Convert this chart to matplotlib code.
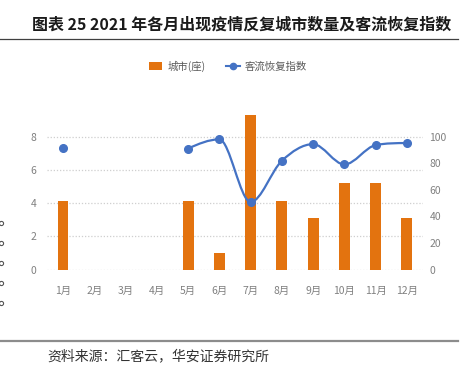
import numpy as np
import matplotlib
matplotlib.use('Agg')
import matplotlib.pyplot as plt
from matplotlib.path import Path
from matplotlib.patches import PathPatch, Patch
from matplotlib.lines import Line2D

plt.rcParams['font.family'] = ['Noto Sans CJK SC', 'DejaVu Sans']

months = ['1月', '2月', '3月', '4月', '5月', '6月', '7月', '8月', '9月', '10月', '11月', '12月']
cities = [4.1, 0, 0, 0, 4.1, 1.0, 9.3, 4.1, 3.1, 5.2, 5.2, 3.1]
flow = [91.3, np.nan, np.nan, np.nan, 91.0, 97.9, 50.8, 81.8, 94.3, 79.0, 93.6, 95.1]
left_ticks = [0, 2, 4, 6, 8]
right_ticks = [0, 20, 40, 60, 80, 100]

BAR = '#E3730F'
LINE = '#4472C4'
TICK = '#808080'

W, H = 472, 366
fig = plt.figure(figsize=(W / 100, H / 100), dpi=100)
ax = fig.add_axes([47.35 / W, 1 - 269.5 / H, (422.6 - 47.35) / W, (269.5 - 100) / H])
ax2 = ax.twinx()

x = np.arange(len(months))
ax.bar(x, cities, width=0.35, color=BAR, zorder=2)
ax.set_xlim(-0.5, len(months) - 0.5)
ax.set_ylim(0, 10.2)
ax2.set_ylim(0, 10.2 * 12.5)
ax.set_yticks(left_ticks)
ax2.set_yticks(right_ticks)
ax.set_xticks(x)
ax.set_xticklabels(months)
for a in (ax, ax2):
    for s in a.spines.values():
        s.set_visible(False)
    a.tick_params(length=0, labelsize=7.5, labelcolor=TICK)
ax.tick_params(axis='x', pad=12)
ax.tick_params(axis='y', pad=8)
ax2.tick_params(axis='y', pad=5)
ax.grid(axis='y', linestyle=(0, (1, 1.5)), color='#cfcfcf', linewidth=0.9, zorder=0)
ax.set_axisbelow(True)

# smoothed line: shape-preserving cubic Hermite drawn as Bezier segments
fx = np.array(x, dtype=float)
fy = np.array(flow, dtype=float)
valid = ~np.isnan(fy)
segs, cur = [], []
for i in range(len(fy)):
    if valid[i]:
        cur.append(i)
    else:
        if cur:
            segs.append(cur)
        cur = []
if cur:
    segs.append(cur)
for seg in segs:
    if len(seg) < 2:
        continue
    px = fx[seg]
    py = fy[seg]
    n = len(px)
    d = np.diff(py) / np.diff(px)
    m = np.zeros(n)
    for k in range(1, n - 1):
        if d[k - 1] * d[k] <= 0:
            m[k] = 0.0
        else:
            avg = (d[k - 1] + d[k]) / 2
            lim = 3 * min(abs(d[k - 1]), abs(d[k]))
            m[k] = np.sign(avg) * min(abs(avg), lim)
    m[0] = 1.5 * d[0] - 0.5 * m[1]
    m[-1] = 1.5 * d[-1] - 0.5 * m[-2]
    verts = [(px[0], py[0])]
    codes = [Path.MOVETO]
    for k in range(n - 1):
        h = px[k + 1] - px[k]
        verts += [(px[k] + h / 3, py[k] + m[k] * h / 3),
                  (px[k + 1] - h / 3, py[k + 1] - m[k + 1] * h / 3),
                  (px[k + 1], py[k + 1])]
        codes += [Path.CURVE4] * 3
    ax2.add_patch(PathPatch(Path(verts, codes), fill=False, edgecolor=LINE, linewidth=1.6, zorder=3))
ax2.plot(fx[valid], fy[valid], linestyle='none', marker='o', markersize=5.5, color=LINE, zorder=4)

# legend
handles = [Patch(facecolor=BAR, edgecolor='none'),
           Line2D([0], [0], color=LINE, marker='o', markersize=4.5, linewidth=1.5)]
leg = fig.legend(handles, ['城市(座)', '客流恢复指数'], ncol=2, loc='center',
                 bbox_to_anchor=(0.483, 1 - 66 / H), frameon=False, fontsize=7.5,
                 handlelength=1.3, handleheight=0.7, columnspacing=2.0, handletextpad=0.5)
for t in leg.get_texts():
    t.set_color('#595959')

# title and frame lines
fig.text(32 / W, 1 - 25 / H, '图表 25 2021 年各月出现疫情反复城市数量及客流恢复指数',
         fontsize=11.5, fontweight='bold', color='#1a1a1a', va='center', ha='left')
fig.add_artist(Line2D([0, 458 / W], [1 - 39 / H, 1 - 39 / H], color='#404040', linewidth=0.9))
fig.add_artist(Line2D([0, 458 / W], [1 - 341 / H, 1 - 341 / H], color='#8c8c8c', linewidth=1.6))
fig.text(47 / W, 1 - 356 / H, '资料来源：汇客云，华安证券研究所', fontsize=10, color='#333333',
         va='center', ha='left')

# small marks at left edge
for yy in [222.7, 242.7, 262.7, 282.7, 302.7]:
    fig.add_artist(Line2D([0.5 / W], [1 - yy / H], marker='o', markersize=3, markerfacecolor='none',
                          markeredgecolor='#555555', markeredgewidth=0.8, linestyle='none'))

fig.savefig('out.png', dpi=100)
